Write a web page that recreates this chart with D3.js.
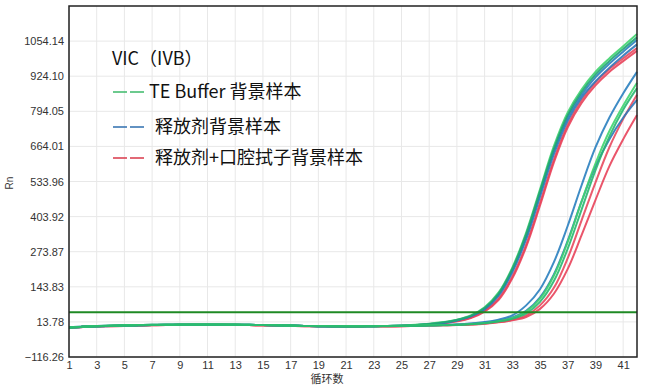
<!DOCTYPE html>
<html>
<head>
<meta charset="utf-8">
<script src="https://cdn.jsdelivr.net/npm/d3@7"></script>
<style>
  body { margin: 0; background: #fff; }
  svg { display: block; }
</style>
</head>
<body>
<svg id="chart"></svg>
<script>
const ctx = {
  width: 646,
  height: 388,
  margin: { top: 6, right: 9, bottom: 31, left: 69 }
};

// cycle numbers (x) and axis ticks
const cycles = [1,2,3,4,5,6,7,8,9,10,11,12,13,14,15,16,17,18,19,20,21,
  22,23,24,25,26,27,28,29,30,31,32,33,34,35,36,37,38,39,40,41,42];
const xTicks = [1,3,5,7,9,11,13,15,17,19,21,23,25,27,29,31,33,35,37,39,41];
const yTicks = [-116.26, 13.78, 143.83, 273.87, 403.92, 533.96, 664.01, 794.05, 924.10, 1054.14];
const yDomain = [-116.26, 1184.19];
const threshold = 50;

// legend
const legendTitle = "VIC（IVB）";
const legendNames = ["TE Buffer 背景样本", "释放剂背景样本", "释放剂+口腔拭子背景样本"];
const legendColors = ["#3cb96a", "#2f6fae", "#d9384a"];

// Rn per cycle, one array per well
const wellA1 = [-7,-4,-2,-1,0,1,2,3,3,4,4,4,3,3,2,1,0,-1,-2,-2,-2,-2,-2,-1,0,
  3,7,13,22,38,68,122,215,345,505,665,790,875,940,990,1035,1080];
const wellA2 = [-6,-3,-1,0,1,2,3,3,4,4,4,4,4,3,2,1,0,-1,-1,-2,-2,-2,-1,-1,0,
  2,6,12,21,36,65,118,210,338,498,655,780,865,930,980,1025,1068];
const wellA3 = [-8,-5,-3,-1,0,1,2,2,3,3,3,3,3,2,2,1,0,-1,-2,-3,-3,-2,-2,-1,0,
  2,6,11,20,35,63,115,205,330,490,648,772,855,920,970,1015,1058];
const wellA4 = [-7,-4,-2,-1,0,1,2,3,3,3,4,3,3,3,2,1,0,-1,-2,-2,-2,-2,-2,-1,-1,
  2,5,10,19,34,60,110,198,320,478,635,760,845,905,955,1000,1042];
const wellA5 = [-8,-5,-3,-2,-1,0,1,2,2,3,3,3,2,2,1,0,-1,-2,-2,-3,-3,-3,-2,-2,-1,
  1,4,9,17,30,55,100,182,300,455,615,745,835,900,950,990,1028];
const wellA6 = [-7,-4,-2,-1,0,1,2,2,3,3,3,3,3,2,1,1,0,-1,-2,-2,-3,-2,-2,-2,-1,
  1,4,8,16,28,52,95,175,292,445,605,735,825,890,940,980,1018];

const wellB1 = [-6,-3,-1,0,1,2,3,3,4,4,4,4,3,3,2,1,0,-1,-2,-2,-2,-2,-2,-1,-1,
  0,1,2,4,8,13,22,38,75,135,235,370,520,660,770,860,940];
const wellB2 = [-7,-4,-2,0,1,2,3,3,4,4,4,4,4,3,2,1,0,-1,-1,-2,-2,-2,-2,-1,-1,
  0,1,2,3,6,10,16,28,52,100,185,310,460,600,720,815,900];
const wellB3 = [-8,-4,-2,-1,0,1,2,3,3,3,3,3,3,2,2,1,0,-1,-2,-2,-3,-3,-2,-2,-1,
  -1,0,1,3,5,9,15,25,45,88,165,285,430,575,700,800,880];
const wellB4 = [-7,-4,-2,-1,0,1,2,3,3,4,4,3,3,3,2,1,0,-1,-2,-2,-2,-2,-2,-1,-1,
  0,1,2,4,7,11,18,30,55,105,190,315,460,590,690,770,836];
const wellB5 = [-8,-5,-3,-2,-1,0,1,2,2,3,3,3,2,2,1,0,-1,-2,-2,-3,-3,-3,-2,-2,-2,
  -1,0,1,2,4,8,13,22,38,75,140,250,390,530,660,765,855];
const wellB6 = [-7,-4,-2,-1,0,1,2,2,3,3,3,3,2,2,1,0,-1,-1,-2,-2,-3,-3,-2,-2,-2,
  -1,0,1,2,4,7,12,20,32,62,118,210,335,465,590,690,780];

const wells = [
  { values: wellA5, color: "#e84a5f" },
  { values: wellA6, color: "#e8435a" },
  { values: wellB5, color: "#e84a5f" },
  { values: wellB6, color: "#e8435a" },
  { values: wellA3, color: "#2a7fbf" },
  { values: wellA4, color: "#2f78b8" },
  { values: wellB1, color: "#2a7fbf" },
  { values: wellB4, color: "#2f78b8" },
  { values: wellA1, color: "#3fd46e" },
  { values: wellA2, color: "#1fa375" },
  { values: wellB2, color: "#3fd46e" },
  { values: wellB3, color: "#28b870" }
];

const svg = d3.select("#chart")
  .attr("width", ctx.width)
  .attr("height", ctx.height);

const x0 = ctx.margin.left, x1 = ctx.width - ctx.margin.right;
const y0 = ctx.height - ctx.margin.bottom, y1 = ctx.margin.top;

const xScale = d3.scaleLinear().domain([1, 42]).range([x0, x1]);
const yScale = d3.scaleLinear().domain(yDomain).range([y0, y1]);

// grid
svg.append("g")
  .selectAll("line")
  .data(xTicks)
  .enter()
  .append("line")
    .attr("x1", d => xScale(d)).attr("x2", d => xScale(d))
    .attr("y1", y1).attr("y2", y0)
    .attr("stroke", "#e8e8e8").attr("stroke-width", 1);

svg.append("g")
  .selectAll("line")
  .data(yTicks)
  .enter()
  .append("line")
    .attr("x1", x0).attr("x2", x1)
    .attr("y1", d => yScale(d)).attr("y2", d => yScale(d))
    .attr("stroke", "#e8e8e8").attr("stroke-width", 1);

// amplification curves
const line = d3.line()
  .x((d, i) => xScale(cycles[i]))
  .y(d => yScale(d))
  .curve(d3.curveCatmullRom.alpha(0.5));

svg.append("g")
  .selectAll("path")
  .data(wells)
  .enter()
  .append("path")
    .attr("d", d => line(d.values))
    .attr("fill", "none")
    .attr("stroke", d => d.color)
    .attr("stroke-width", 2)
    .attr("opacity", 0.9);

// threshold
svg.append("line")
  .attr("x1", x0).attr("x2", x1)
  .attr("y1", yScale(threshold)).attr("y2", yScale(threshold))
  .attr("stroke", "#1f8a24").attr("stroke-width", 2);

// axes
const xAxis = svg.append("g")
  .attr("transform", `translate(0, ${y0})`)
  .call(d3.axisBottom(xScale).tickValues(xTicks).tickSize(0).tickPadding(4));

const yAxis = svg.append("g")
  .attr("transform", `translate(${x0}, 0)`)
  .call(d3.axisLeft(yScale).tickValues(yTicks).tickSize(0).tickPadding(5)
    .tickFormat(d3.format(".2f")));

[xAxis, yAxis].forEach(g => {
  g.select(".domain").remove();
  g.selectAll("text")
    .attr("fill", "#333")
    .style("font-family", "'Liberation Sans', Arial, sans-serif")
    .style("font-size", "11px");
});

// frame
svg.append("rect")
  .attr("x", x0).attr("y", y1)
  .attr("width", x1 - x0).attr("height", y0 - y1)
  .attr("fill", "none")
  .attr("stroke", "#222")
  .attr("stroke-width", 1.5);

// axis titles
svg.append("text")
  .attr("transform", `translate(13, 183) rotate(-90)`)
  .attr("text-anchor", "middle")
  .attr("fill", "#333")
  .style("font-family", "'Liberation Sans', Arial, sans-serif")
  .style("font-size", "10px")
  .text("Rn");

svg.append("text")
  .attr("x", 327).attr("y", 383)
  .attr("text-anchor", "middle")
  .attr("fill", "#333")
  .style("font-family", "'Noto Sans CJK SC', sans-serif")
  .style("font-size", "11px")
  .text("循环数");

// legend
const legend = svg.append("g")
  .style("font-family", "'Noto Sans CJK SC', sans-serif");

legend.append("text")
  .attr("x", 112).attr("y", 65)
  .attr("fill", "#111")
  .style("font-size", "18px")
  .text(legendTitle);

const legendRows = [92, 127, 158];
const legendTextX = [149, 155, 155];

legendNames.forEach((name, i) => {
  legend.append("line")
    .attr("x1", 113).attr("x2", 144)
    .attr("y1", legendRows[i]).attr("y2", legendRows[i])
    .attr("stroke", legendColors[i])
    .attr("stroke-width", 1.5)
    .attr("stroke-dasharray", "14,3");
  legend.append("text")
    .attr("x", legendTextX[i]).attr("y", legendRows[i] + 6)
    .attr("fill", "#111")
    .style("font-size", "18px")
    .text(name);
});
</script>
</body>
</html>
